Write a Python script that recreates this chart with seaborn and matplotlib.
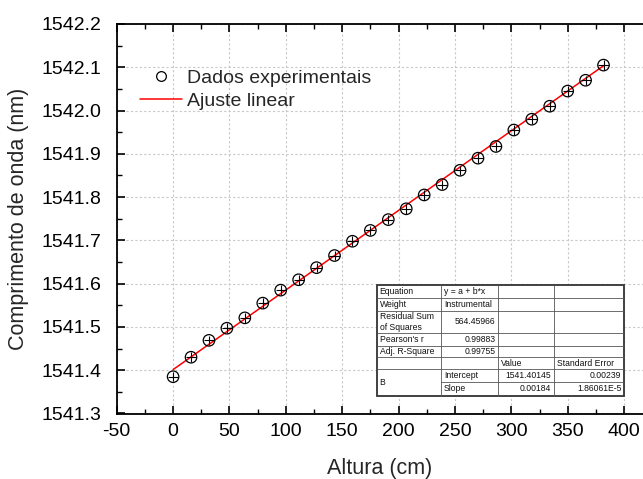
import numpy as np
import pandas as pd
import matplotlib
matplotlib.use("Agg")
import matplotlib.pyplot as plt
from matplotlib.ticker import MultipleLocator, FormatStrFormatter
from matplotlib.patches import Rectangle
from matplotlib.lines import Line2D
import seaborn as sns

# Measured heights (cm) and Bragg wavelength (nm)
altura = [0.0, 15.9, 31.8, 47.7, 63.6, 79.5, 95.4, 111.3, 127.2, 143.1, 159.0,
          174.9, 190.8, 206.7, 222.6, 238.5, 254.4, 270.3, 286.2, 302.1, 318.0,
          333.9, 349.8, 365.7, 381.6]
comprimento = [1541.385, 1541.430, 1541.469, 1541.497, 1541.521, 1541.555,
               1541.585, 1541.609, 1541.637, 1541.665, 1541.698, 1541.723,
               1541.748, 1541.773, 1541.805, 1541.829, 1541.862, 1541.890,
               1541.917, 1541.955, 1541.980, 1542.010, 1542.045, 1542.070,
               1542.105]
erro_y = [0.011] * len(altura)
erro_x = [4.5] * len(altura)

# Linear fit results
intercepto = 1541.40145
inclinacao = 0.00184

tabela_linhas = [
    ["Equation", "y = a + b*x", "", ""],
    ["Weight", "Instrumental", "", ""],
    ["Residual Sum\nof Squares", "564.45966", "", ""],
    ["Pearson's r", "0.99883", "", ""],
    ["Adj. R-Square", "0.99755", "", ""],
    ["", "", "Value", "Standard Error"],
    ["B", "Intercept", "1541.40145", "0.00239"],
    ["", "Slope", "0.00184", "1.86061E-5"],
]

sns.set_theme(style="white")
plt.rcParams["font.family"] = ["Liberation Sans", "DejaVu Sans"]
plt.rcParams["axes.unicode_minus"] = False

W, H = 643, 479
fig = plt.figure(figsize=(W / 100, H / 100), dpi=100)
x0, x1 = 116.7, 643.0
y0, y1 = 24.0, 413.5
ax = fig.add_axes([x0 / W, 1 - y1 / H, (x1 - x0) / W, (y1 - y0) / H])

df = pd.DataFrame({"altura": altura, "comprimento": comprimento,
                   "ey": erro_y, "ex": erro_x})

xs = np.array([min(altura), max(altura)])
fit = pd.DataFrame({"x": xs, "y": intercepto + inclinacao * xs})

ax.errorbar(df["altura"], df["comprimento"], yerr=df["ey"], xerr=df["ex"],
            fmt="none", ecolor="black", elinewidth=0.8, capsize=0, zorder=3)
sns.lineplot(data=fit, x="x", y="y", ax=ax, color="red", linewidth=1.1,
             zorder=2, legend=False)
sns.scatterplot(data=df, x="altura", y="comprimento", ax=ax, s=68,
                facecolor="none", edgecolor="black", linewidth=0.9,
                zorder=4, legend=False)

ax.set_xlim(-50, 416.6)
ax.set_ylim(1541.3, 1542.2)
ax.xaxis.set_major_locator(MultipleLocator(50))
ax.xaxis.set_minor_locator(MultipleLocator(25))
ax.yaxis.set_major_locator(MultipleLocator(0.1))
ax.yaxis.set_minor_locator(MultipleLocator(0.05))
ax.yaxis.set_major_formatter(FormatStrFormatter("%.1f"))
ax.grid(True, which="major", color="#c8c8c8", linestyle=(0, (2, 2)),
        linewidth=0.8, zorder=0)
ax.tick_params(which="both", direction="in", top=True, bottom=True,
               left=True, right=False, colors="black", labelsize=14)
ax.tick_params(which="major", length=6, width=1.2)
ax.tick_params(which="minor", length=3.5, width=1.0)
ax.tick_params(axis="x", pad=7)
ax.tick_params(axis="y", pad=11)
for side in ["left", "bottom", "top"]:
    ax.spines[side].set_color("black")
    ax.spines[side].set_linewidth(1.3)
ax.spines["right"].set_visible(False)

ax.set_xlabel("Altura (cm)", fontsize=15.5, labelpad=13)
ax.set_ylabel("Comprimento de onda (nm)", fontsize=15.5, labelpad=9)

handles = [
    Line2D([], [], marker="o", linestyle="none", markerfacecolor="none",
           markeredgecolor="black", markersize=7, markeredgewidth=0.9),
    Line2D([], [], color="red", linewidth=1.1),
]
fig.legend(handles, ["Dados experimentais", "Ajuste linear"],
           loc="upper left", bbox_to_anchor=(140 / W, 1 - 69 / H),
           frameon=False, fontsize=14, handlelength=2.15, handletextpad=0.26,
           labelspacing=0.28, borderpad=0, borderaxespad=0)

# Fit-summary table drawn in figure pixel space
col_x = [376.7, 441.0, 498.3, 554.3, 624.3]
row_y = [285.0, 298.3, 310.7, 333.3, 345.7, 357.3, 369.3, 381.7, 395.7]


def fx(px):
    return px / W


def fy(py):
    return 1 - py / H


fig.patches.append(Rectangle((fx(col_x[0]), fy(row_y[-1])),
                             fx(col_x[-1]) - fx(col_x[0]),
                             fy(row_y[0]) - fy(row_y[-1]),
                             transform=fig.transFigure, facecolor="white",
                             edgecolor="#333333", linewidth=1.3, zorder=5))
thin = dict(color="#555555", linewidth=0.6, transform=fig.transFigure, zorder=6)
for i, yy in enumerate(row_y[1:-1], start=1):
    start = col_x[1] if i == 7 else col_x[0]
    fig.lines.append(Line2D([fx(start), fx(col_x[-1])], [fy(yy), fy(yy)], **thin))
for xx in col_x[1:-1]:
    fig.lines.append(Line2D([fx(xx), fx(xx)], [fy(row_y[0]), fy(row_y[-1])], **thin))

for r, linha in enumerate(tabela_linhas):
    top, bot = row_y[r], row_y[r + 1]
    for c, txt in enumerate(linha):
        if not txt:
            continue
        ty = (top + bot) / 2
        if r == 6 and c == 0:
            ty = (row_y[6] + row_y[8]) / 2
        if txt[0].isdigit():
            tx, ha = col_x[c + 1] - 3, "right"
        else:
            tx, ha = col_x[c] + 3, "left"
        fig.text(fx(tx), fy(ty), txt, ha=ha, va="center", fontsize=6.2,
                 color="#111111", linespacing=1.2, zorder=7)

fig.savefig("out.png", dpi=100)
